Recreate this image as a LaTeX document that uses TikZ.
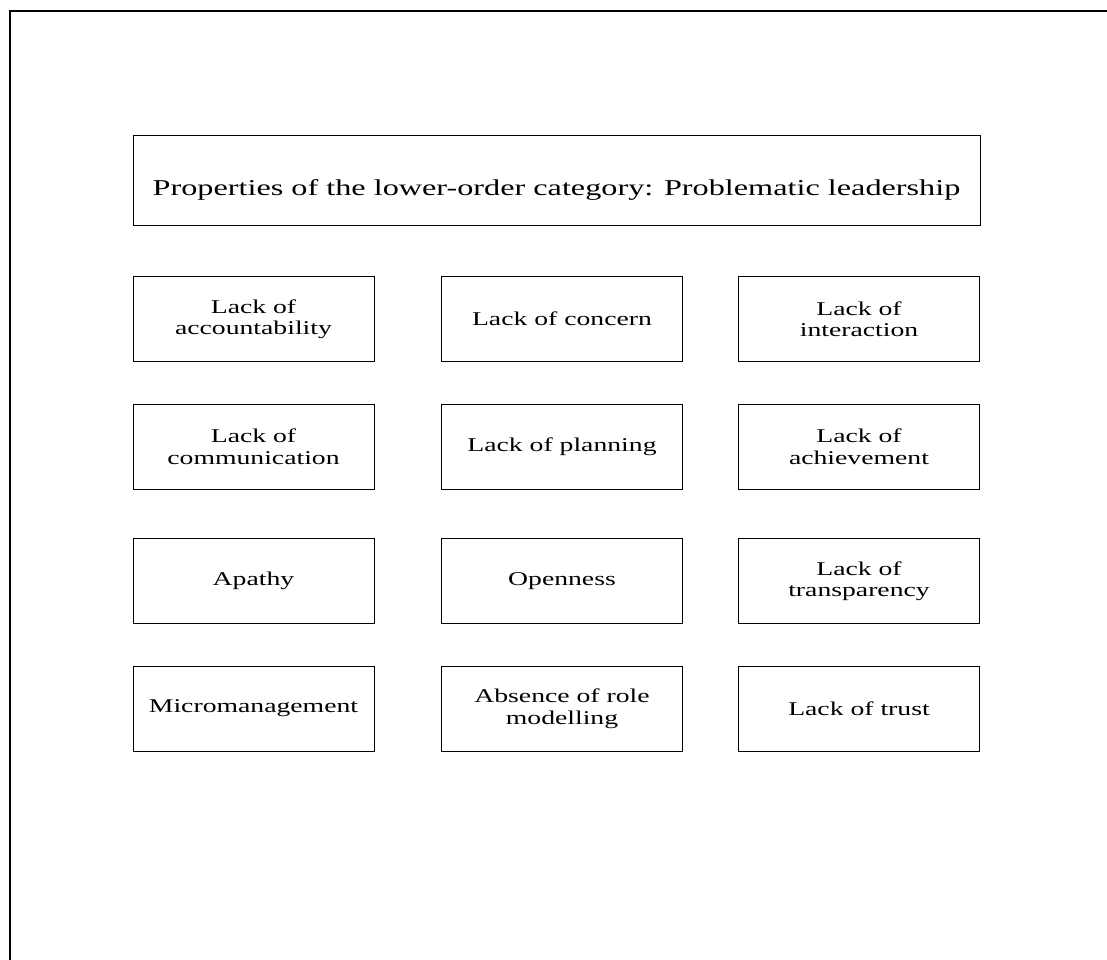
\documentclass[tikz,border=0pt]{standalone}
\usepackage{fontspec}
\setmainfont{Liberation Serif}[FakeStretch=1.42]
\begin{document}
\begin{tikzpicture}[x=1pt,y=-1pt,
  frameline/.style={line width=2pt,line cap=rect},
  titlebox/.style={draw,line width=1pt,minimum width=847pt,minimum height=90pt,
    inner sep=0pt,align=center,text height=30pt,text depth=0pt,
    font=\fontsize{22.7}{26}\selectfont},
  propbox/.style={draw,line width=1pt,minimum width=241pt,minimum height=85pt,
    inner sep=0pt,align=center,font=\fontsize{19.5}{21.5}\selectfont}]
\useasboundingbox (0,0) rectangle (1107,959);
% open frame along the left and top edges
\coordinate (fbl) at (10,959);
\coordinate (ftl) at (10,11);
\coordinate (ftr) at (1107,11);
\draw[frameline] (fbl) -- (ftl) -- (ftr);
% heading
\node[titlebox] (title) at (556.5,180) {Properties of the lower-order category: Problematic leadership};
% properties, three per row
\node[propbox] (p11) at (253.5,319) {Lack of\\accountability};
\node[propbox] (p12) at (562,319) {Lack of concern};
\node[propbox] (p13) at (859,319) {Lack of\\interaction};
\node[propbox] (p21) at (253.5,446.5) {Lack of\\communication};
\node[propbox] (p22) at (562,446.5) {Lack of planning};
\node[propbox] (p23) at (859,446.5) {Lack of\\achievement};
\node[propbox] (p31) at (253.5,581) {Apathy};
\node[propbox] (p32) at (562,581) {Openness};
\node[propbox] (p33) at (859,581) {Lack of\\transparency};
\node[propbox] (p41) at (253.5,708.5) {Micromanagement};
\node[propbox] (p42) at (562,708.5) {Absence of role\\modelling};
\node[propbox] (p43) at (859,708.5) {Lack of trust};
\end{tikzpicture}
\end{document}
